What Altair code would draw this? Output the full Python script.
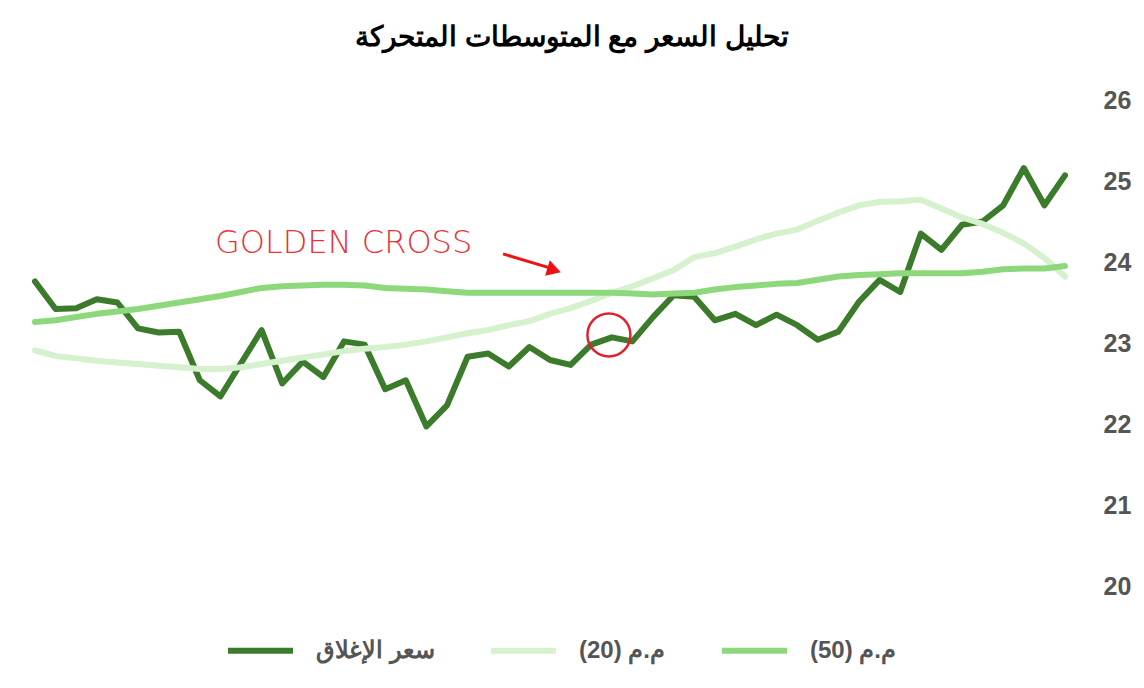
import altair as alt
import pandas as pd

# ---- data ----
series_names = ["سعر الإغلاق", "م.م (20)", "م.م (50)"]
series_colors = ["#3b7b2b", "#d5f1cd", "#8dd87b"]

close = [23.76, 23.42, 23.43, 23.54, 23.50, 23.18, 23.13, 23.14, 22.54, 22.34,
         22.75, 23.16, 22.50, 22.77, 22.58, 23.02, 22.98, 22.43, 22.54, 21.97,
         22.23, 22.83, 22.87, 22.71, 22.95, 22.79, 22.73, 22.98, 23.07, 23.02,
         23.32, 23.59, 23.57, 23.28, 23.36, 23.22, 23.35, 23.22, 23.04, 23.14,
         23.51, 23.78, 23.63, 24.35, 24.15, 24.46, 24.50, 24.70, 25.16, 24.70,
         25.07]
ma20 = [22.91, 22.84, 22.81, 22.78, 22.76, 22.74, 22.72, 22.70, 22.68, 22.68,
        22.70, 22.74, 22.78, 22.82, 22.86, 22.90, 22.93, 22.95, 22.98, 23.02,
        23.07, 23.12, 23.16, 23.22, 23.27, 23.36, 23.43, 23.52, 23.62, 23.70,
        23.80, 23.90, 24.06, 24.11, 24.19, 24.28, 24.35, 24.40, 24.51, 24.61,
        24.70, 24.74, 24.75, 24.77, 24.66, 24.55, 24.47, 24.36, 24.23, 24.05,
        23.82]
ma50 = [23.26, 23.28, 23.32, 23.36, 23.39, 23.42, 23.46, 23.50, 23.54, 23.58,
        23.63, 23.68, 23.70, 23.71, 23.72, 23.72, 23.71, 23.68, 23.67, 23.66,
        23.64, 23.62, 23.62, 23.62, 23.62, 23.62, 23.62, 23.62, 23.62, 23.61,
        23.60, 23.61, 23.62, 23.66, 23.69, 23.71, 23.73, 23.74, 23.78, 23.82,
        23.84, 23.85, 23.86, 23.86, 23.86, 23.86, 23.88, 23.91, 23.92, 23.92,
        23.95]
y_ticks = [20, 21, 22, 23, 24, 25, 26]

title_text = "تحليل السعر مع المتوسطات المتحركة"
note_text = ["GOLDEN CROSS"]
note_i = [8.74]
note_v = [24.235]
arrow_i = [22.72]
arrow_v = [24.10]
arrow_i2 = [24.95]
arrow_v2 = [23.93]
head_i = [25.2]
head_v = [23.90]
circle_i = [27.86]
circle_v = [23.10]

# ---- build table ----
rows = []
for order, (name, vals) in enumerate(zip(series_names, [close, ma20, ma50])):
    for i, v in enumerate(vals):
        rows.append({"i": i, "v": v, "s": name, "o": order})
df = pd.DataFrame(rows)
n = len(close)

xs = alt.Scale(domain=[0, n - 1], nice=False)
ys = alt.Scale(domain=[20, 26], nice=False, zero=False)

lines = alt.Chart(df).mark_line(strokeWidth=6, strokeJoin="round", strokeCap="round").encode(
    x=alt.X("i:Q", scale=xs, axis=None),
    y=alt.Y("v:Q", scale=ys, axis=alt.Axis(
        orient="right", values=y_ticks, format="d", domain=False, ticks=False, grid=False,
        labelPadding=38, labelFontSize=25, labelFontWeight="bold",
        labelColor="#555555", labelFont="Liberation Sans", title=None)),
    color=alt.Color("s:N", scale=alt.Scale(domain=series_names, range=series_colors),
                    sort=series_names,
                    legend=alt.Legend(
                        orient="none", legendX=190, legendY=515, direction="horizontal",
                        title=None, symbolType="stroke", symbolSize=4225,
                        symbolStrokeWidth=6, labelFontSize=24, labelFontWeight="bold",
                        labelColor="#555555", labelFont="Liberation Sans",
                        columnPadding=44, labelOffset=20, padding=0,
                        labelExpr="datum.label + '\u200f'")),
    order=alt.Order("o:Q"),
)

note_df = pd.DataFrame({"t": note_text, "i": note_i, "v": note_v})
note = alt.Chart(note_df).mark_text(
    align="left", baseline="middle", fontSize=32, font="DejaVu Sans",
    fontWeight=200, color="#e8323a").encode(
    x=alt.X("i:Q", scale=xs), y=alt.Y("v:Q", scale=ys), text="t:N")

arrow_df = pd.DataFrame({"i": arrow_i, "v": arrow_v, "i2": arrow_i2, "v2": arrow_v2})
arrow = alt.Chart(arrow_df).mark_rule(color="#ee1111", strokeWidth=3).encode(
    x=alt.X("i:Q", scale=xs), y=alt.Y("v:Q", scale=ys), x2="i2:Q", y2="v2:Q")

head_df = pd.DataFrame({"i": head_i, "v": head_v})
head = alt.Chart(head_df).mark_point(
    shape="triangle-right", filled=True, size=260, angle=17, color="#ee1111", opacity=1).encode(
    x=alt.X("i:Q", scale=xs), y=alt.Y("v:Q", scale=ys))

circ_df = pd.DataFrame({"i": circle_i, "v": circle_v})
circ = alt.Chart(circ_df).mark_point(
    shape="circle", filled=False, size=1849, strokeWidth=2.5, color="#e0202b", opacity=1).encode(
    x=alt.X("i:Q", scale=xs), y=alt.Y("v:Q", scale=ys))

chart = alt.layer(lines, note, arrow, head, circ).properties(
    width=1030, height=486,
    autosize=alt.AutoSizeParams(type="none"),
    padding={"left": 27, "top": 92, "right": 71, "bottom": 94},
    title=alt.TitleParams(title_text, anchor="middle", fontSize=28, fontWeight="bold",
                          font="Liberation Sans", color="#000000", offset=36, dx=22),
).configure_view(stroke=None)

chart.save("out.html", embed_options={"renderer": "svg", "actions": False})
